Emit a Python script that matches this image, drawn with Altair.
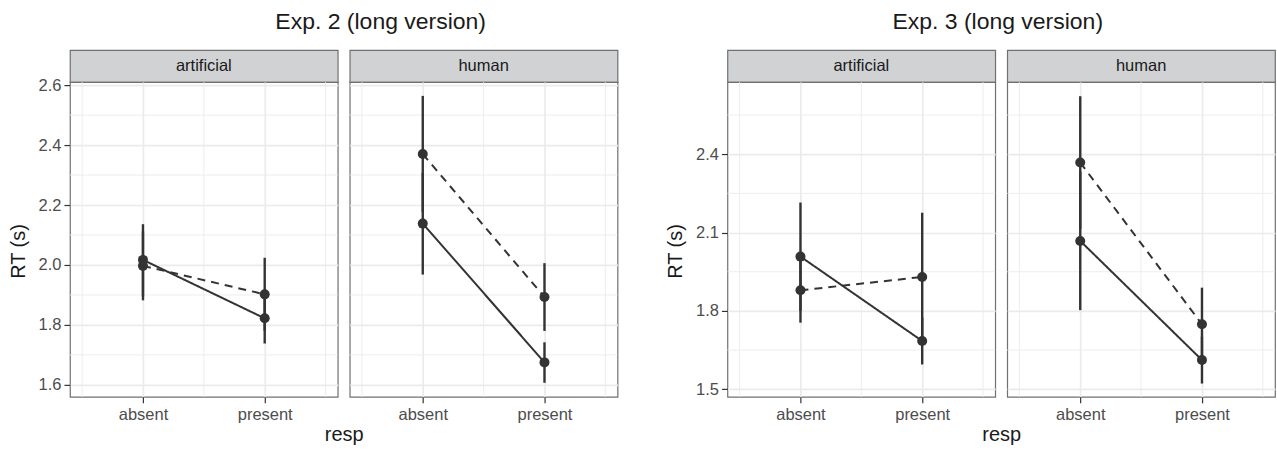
import altair as alt
import pandas as pd

FONT = "Liberation Sans"
DARK = "#333333"
BORDER = "#707070"
GRID = "#ebebeb"

RESP = ["absent", "present"]
RESP_POS = [1, 2]
FACETS = ["artificial", "human"]
GROUPS = ["solid", "dashed"]

ROW_FACET = ["artificial"] * 4 + ["human"] * 4
ROW_GROUP = ["solid", "solid", "dashed", "dashed"] * 2
ROW_RESP = ["absent", "present"] * 4

EXP2_MEAN = [2.017, 1.822, 1.997, 1.902, 2.138, 1.675, 2.370, 1.893]
EXP2_LO = [1.895, 1.738, 1.882, 1.780, 1.968, 1.607, 2.176, 1.780]
EXP2_HI = [2.136, 1.905, 2.112, 2.024, 2.308, 1.742, 2.564, 2.006]

EXP3_MEAN = [2.008, 1.685, 1.879, 1.930, 2.068, 1.612, 2.368, 1.749]
EXP3_LO = [1.800, 1.595, 1.755, 1.684, 1.803, 1.522, 2.114, 1.609]
EXP3_HI = [2.215, 1.775, 2.003, 2.176, 2.333, 1.702, 2.622, 1.889]

EXP2_TICKS = [1.6, 1.8, 2.0, 2.2, 2.4, 2.6]
EXP2_MINOR = [1.7, 1.9, 2.1, 2.3, 2.5]
EXP2_DOMAIN = [1.56, 2.61]
EXP3_TICKS = [1.5, 1.8, 2.1, 2.4]
EXP3_MINOR = [1.65, 1.95, 2.25, 2.55]
EXP3_DOMAIN = [1.471, 2.676]
X_MINOR = [0.5, 1.5, 2.5]

TITLES = ["Exp. 2 (long version)", "Exp. 3 (long version)"]
TITLE_DX = [177, 136.5]

PW, PH, SH, GAP, MID = 268, 315, 32, 12, 86


def make_df(mean, lo, hi):
    pos = dict(zip(RESP, RESP_POS))
    return pd.DataFrame({
        "facet": ROW_FACET,
        "group": ROW_GROUP,
        "resp": ROW_RESP,
        "x": [pos[r] for r in ROW_RESP],
        "y": mean,
        "lo": lo,
        "hi": hi,
    })


def plot_panel(df, facet, ydom, yticks, yminor, first):
    d = df[df["facet"] == facet]
    xscale = alt.Scale(domain=[0.4, 2.6], nice=False, zero=False)
    yscale = alt.Scale(domain=ydom, nice=False, zero=False)
    xkw = dict(values=RESP_POS,
               labelExpr="datum.value == 1 ? 'absent' : 'present'",
               grid=True, gridColor=GRID, gridWidth=1.7, domain=False,
               ticks=True, tickColor=DARK, tickSize=6, tickWidth=1.2,
               labelFont=FONT, labelFontSize=16.5, labelColor="#4d4d4d",
               labelPadding=4, labelFlush=False, title="")
    ykw = dict(values=yticks, grid=True, gridColor=GRID, gridWidth=1.7,
               domain=False, title="")
    if first:
        xkw.update(title="resp", titleFont=FONT, titleFontSize=20,
                   titleFontWeight="normal", titleColor="#1a1a1a",
                   titleX=PW + GAP / 2, titleY=44, titleBaseline="alphabetic")
        ykw.update(format=".1f", ticks=True, tickColor=DARK, tickSize=6,
                   tickWidth=1.2, labelFont=FONT, labelFontSize=16.5,
                   labelColor="#4d4d4d", labelPadding=3,
                   title="RT (s)", titleFont=FONT, titleFontSize=20,
                   titleFontWeight="normal", titleColor="#1a1a1a",
                   titleX=-45.5, titleY=169, titleBaseline="alphabetic",
                   titleAngle=270)
    else:
        ykw.update(labels=False, ticks=False)

    def X(f):
        return alt.X(f"{f}:Q", scale=xscale, axis=alt.Axis(**xkw))

    def Y(f):
        return alt.Y(f"{f}:Q", scale=yscale, axis=alt.Axis(**ykw))

    vgrid = alt.Chart(pd.DataFrame({"x": X_MINOR})).mark_rule(
        color=GRID, strokeWidth=0.9).encode(x=X("x"))
    hgrid = alt.Chart(pd.DataFrame({"y": yminor})).mark_rule(
        color=GRID, strokeWidth=0.9).encode(y=Y("y"))
    err = alt.Chart(d).mark_rule(color=DARK, strokeWidth=2.4).encode(
        x=X("x"), y=Y("lo"), y2="hi:Q")
    line = alt.Chart(d).mark_line(color=DARK, strokeWidth=2).encode(
        x=X("x"), y=Y("y"),
        strokeDash=alt.StrokeDash("group:N", scale=alt.Scale(
            domain=GROUPS, range=[[1, 0], [8, 6]]), legend=None))
    pts = alt.Chart(d).mark_circle(size=100, color=DARK, opacity=1).encode(
        x=X("x"), y=Y("y"))
    return alt.layer(vgrid, hgrid, err, line, pts).properties(
        width=PW, height=PH,
        view=alt.ViewBackground(fill="white", stroke=BORDER, strokeWidth=1.2))


def strip_panel(facet, title=None, dx=0):
    props = dict(width=PW, height=SH,
                 view=alt.ViewBackground(fill="#d1d2d4", stroke=BORDER,
                                         strokeWidth=1.2))
    if title is not None:
        props["title"] = alt.TitleParams(
            title, font=FONT, fontSize=23, fontWeight="normal", color="#1a1a1a",
            anchor="middle", baseline="alphabetic", offset=-1.6, dx=dx)
    return alt.Chart(pd.DataFrame({"facet": [facet]})).mark_text(
        font=FONT, fontSize=16.5, color="#1a1a1a", baseline="middle",
        align="center").encode(
        text="facet:N", x=alt.value(PW / 2), y=alt.value(SH / 2)).properties(**props)


def spacer(h):
    return alt.Chart(pd.DataFrame({"v": [0]})).mark_point(opacity=0).encode(
        x=alt.value(0), y=alt.value(0)).properties(
        width=MID, height=h,
        view=alt.ViewBackground(fill="transparent", stroke="transparent"))


df2 = make_df(EXP2_MEAN, EXP2_LO, EXP2_HI)
df3 = make_df(EXP3_MEAN, EXP3_LO, EXP3_HI)

strips = [
    strip_panel("artificial", TITLES[0], TITLE_DX[0]),
    strip_panel("human"),
    spacer(SH),
    strip_panel("artificial", TITLES[1], TITLE_DX[1]),
    strip_panel("human"),
]
plots = [
    plot_panel(df2, "artificial", EXP2_DOMAIN, EXP2_TICKS, EXP2_MINOR, True),
    plot_panel(df2, "human", EXP2_DOMAIN, EXP2_TICKS, EXP2_MINOR, False),
    spacer(PH),
    plot_panel(df3, "artificial", EXP3_DOMAIN, EXP3_TICKS, EXP3_MINOR, True),
    plot_panel(df3, "human", EXP3_DOMAIN, EXP3_TICKS, EXP3_MINOR, False),
]

chart = alt.concat(*strips, *plots, columns=5, bounds="flush",
                   spacing=alt.RowColnumber(row=0, column=GAP)).properties(
    padding={"left": 7, "top": 10, "right": 0, "bottom": 0},
    background="white")

chart.save("out.html", embed_options={"renderer": "svg", "actions": False})
